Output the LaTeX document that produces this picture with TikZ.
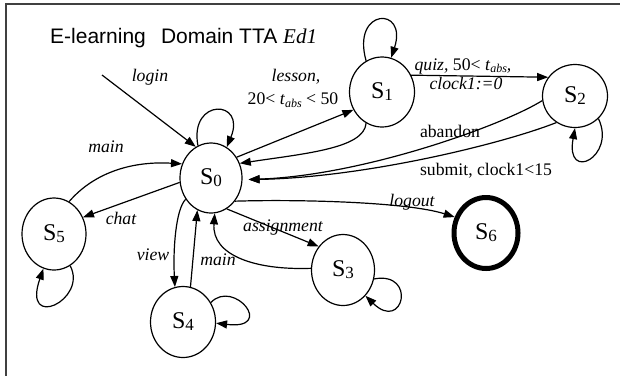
\documentclass[tikz,border=0pt]{standalone}
\usepackage{fontspec}
\setmainfont{Liberation Serif}
\newfontfamily\arialf{Liberation Sans}
\usetikzlibrary{shapes.geometric,arrows.meta}
\newcommand\stt[1]{S\raisebox{-2pt}{\fontsize{17}{17}\selectfont #1}}
\newcommand\tabs{\textit{t}\raisebox{-2.5pt}{\fontsize{12}{12}\selectfont\itshape abs}}
\tikzset{
  state/.style={draw, ellipse, line width=1.2pt, inner sep=0pt, font=\fontsize{24}{24}\selectfont},
  final/.style={state, line width=5pt, minimum width=64pt, minimum height=71pt},
  edge/.style={line width=1.2pt, -{Triangle[length=11pt,width=8pt]}},
  lbl/.style={font=\fontsize{17.7}{21}\selectfont, inner sep=0pt},
  ilbl/.style={font=\fontsize{17.7}{21}\selectfont\itshape, inner sep=0pt},
  frameline/.style={draw=black!75, line width=2pt},
}
\begin{document}
\begin{tikzpicture}[x=1pt,y=-1pt]
\useasboundingbox (0,0) rectangle (620,376);
\fill[white] (0,0) rectangle (620,376);
% frame
\draw[frameline] (5,4.3) -- (620,4.3);
\draw[frameline] (6,3.3) -- (6,376);
% title
\node[anchor=base west, inner sep=0pt, font=\fontsize{21}{21}\selectfont] (title) at (50,43)
  {{\arialf E-learning\hspace{0.72em}Domain TTA }\textit{Ed1}};
% states
\node[state, minimum width=62pt, minimum height=70pt] (s0) at (211,178) {\stt0};
\node[state, minimum width=65pt, minimum height=70pt] (s1) at (382,92) {\stt1};
\node[state, minimum width=65pt, minimum height=63pt] (s2) at (575,96) {\stt2};
\node[state, minimum width=63pt, minimum height=71pt] (s3) at (343,270) {\stt3};
\node[state, minimum width=65pt, minimum height=71pt] (s4) at (183,322) {\stt4};
\node[state, minimum width=64pt, minimum height=72pt] (s5) at (54,234) {\stt5};
\node[final] (s6) at (486,233) {\stt6};
\coordinate (start) at (102,75);
% edges
\draw[edge] (start) -- (s0.116);
\draw[edge] (s0.112) .. controls +(-9,-48) and +(20,-48) .. (s0.63);
\draw[edge] (s0.39) -- (s1.212);
\draw[edge] (s1.243) .. controls +(-2,25) and +(67,-10) .. (s0.27);
\draw[edge] (s1.30) -- (s2.145);
\draw[edge, shorten >=6pt] (s2.188) .. controls +(-40,25) and +(120,-4) .. (s0.-3);
\draw[edge, shorten >=6pt] (s2.235) .. controls +(-56,22) and +(120,-2) .. (s0.-3);
\draw[edge] (s2.-44) .. controls +(18,38) and +(-10,55) .. (s2.270);
\draw[edge] (s1.117) .. controls +(-15,-53) and +(17,-52) .. (s1.75);
\draw[edge] (s5.65) .. controls +(25,-29) and +(-50,-3) .. (s0.154);
\draw[edge] (s0.188) -- (s5.30);
\draw[edge] (s5.-63) .. controls +(18,34) and +(-22,63) .. (s5.253);
\draw[edge] (s0.220) .. controls +(-10,10) and +(-2,-37) .. (s4.103);
\draw[edge] (s4.78) -- (s0.247);
\draw[edge] (s3.177) .. controls +(-56,2) and +(-3,42) .. (s0.276);
\draw[edge] (s0.297) -- (s3.136);
\draw[edge] (s0.-44) .. controls +(65,-2) and +(-47,-15) .. (s6.153);
\draw[edge] (s4.35) .. controls +(23,-24) and +(60,7) .. (s4.-2);
\draw[edge] (s3.-16) .. controls +(43,-8) and +(38,37) .. (s3.-49);
% labels
\node[ilbl] (llogin) at (150,77) {login};
\node[ilbl] (llesson) at (296,77) {lesson,};
\node[lbl] (llesson2) at (293,100) {20< \tabs{} < 50};
\node[lbl] (lquiz) at (463,66) {\textit{quiz,} 50< \tabs\textit{,}};
\node[ilbl] (lclock) at (466,83) {clock1:=0};
\node[lbl] (laband) at (450,131) {abandon};
\node[lbl] (lsubmit) at (486,171) {submit, clock1<15};
\node[ilbl] (llogout) at (412,202) {logout};
\node[ilbl] (lmain1) at (106,147) {main};
\node[ilbl] (lchat) at (121,218) {chat};
\node[ilbl] (lview) at (153,255) {view};
\node[ilbl] (lmain2) at (218,260) {main};
\node[ilbl] (lassign) at (283,228) {assignment};
\end{tikzpicture}
\end{document}
